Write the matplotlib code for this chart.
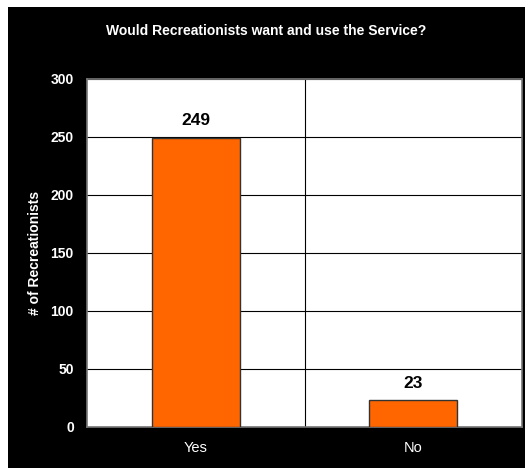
import matplotlib
matplotlib.use("Agg")
import matplotlib.pyplot as plt
from matplotlib.patches import Rectangle

# survey answers
categories = ['Yes', 'No']
counts = [249, 23]
y_ticks = [0, 50, 100, 150, 200, 250, 300]

plt.rcParams['font.family'] = ['Liberation Sans', 'DejaVu Sans']

fig = plt.figure(figsize=(5.28, 4.68), dpi=100)
fig.patch.set_facecolor('white')

# black chart area (slide background)
W, H = 528, 468
fig.patches.append(Rectangle((8 / W, 0), (525 - 8) / W, (468 - 7) / H,
                             transform=fig.transFigure, facecolor='black',
                             edgecolor='none', zorder=-10))

ax = fig.add_axes([87 / W, 1 - 427 / H, (522 - 87) / W, (427 - 79) / H])
ax.set_facecolor('white')

x = list(range(len(categories)))
ax.bar(x, counts, width=0.405, color='#FF6600', edgecolor='#333333',
       linewidth=1.0, zorder=3)

for xi, v in zip(x, counts):
    ax.annotate(str(v), (xi, v), xytext=(0, 7), textcoords='offset points',
                ha='center', va='bottom', fontsize=12.5, fontweight='bold',
                color='black')

ax.set_xlim(-0.5, 1.5)
ax.set_ylim(0, 300)
ax.set_yticks(y_ticks)
ax.set_yticklabels([str(t) for t in y_ticks], fontsize=10, fontweight='bold',
                   color='white')
ax.set_xticks(x)
ax.set_xticklabels(categories, fontsize=10.5, color='white')
ax.tick_params(axis='both', length=0)
ax.tick_params(axis='x', pad=10)
ax.tick_params(axis='y', pad=9.5)

ax.yaxis.grid(True, color='black', linewidth=0.8, zorder=1)
ax.axvline(0.5, color='black', linewidth=0.8, zorder=1)

for s in ax.spines.values():
    s.set_color('#777777')
    s.set_linewidth(1.2)

ax.set_ylabel('# of Recreationists', fontsize=10, fontweight='bold',
              color='white')
ax.yaxis.set_label_coords((35 - 87) / (522 - 87), 0.5)
ax.yaxis.label.set_va('center')

fig.text(266 / W, 1 - 31 / H, 'Would Recreationists want and use the Service?',
         ha='center', va='center', fontsize=10, fontweight='bold',
         color='white')

fig.savefig('out.png', dpi=100, facecolor=fig.get_facecolor())
